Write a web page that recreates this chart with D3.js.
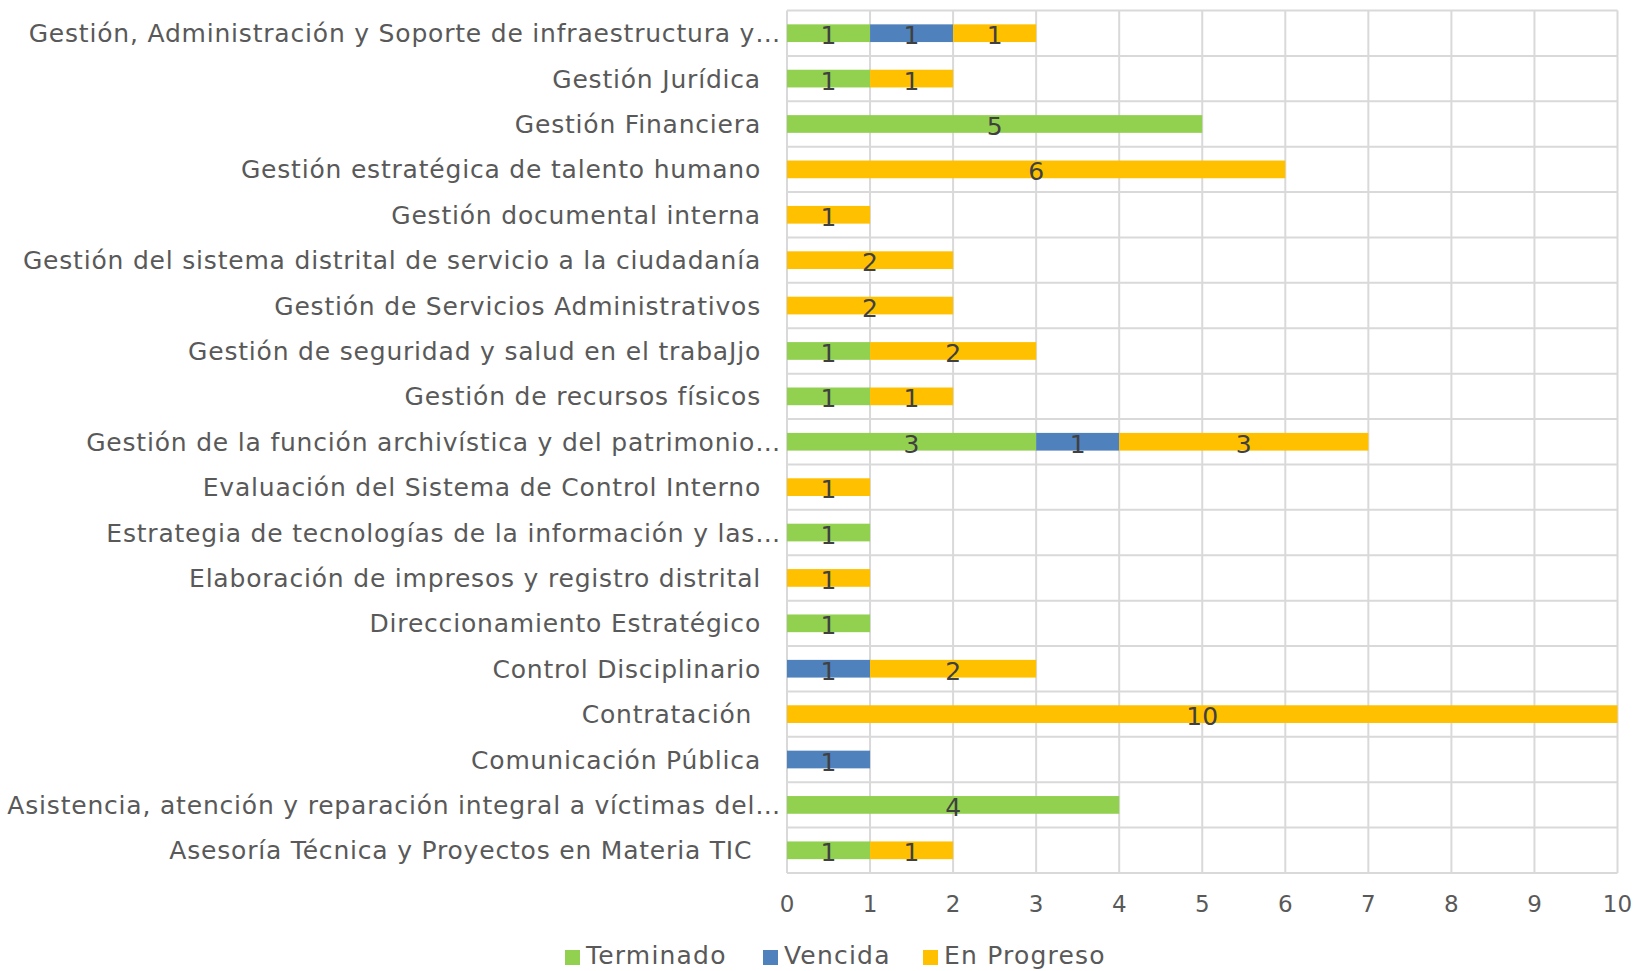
<!DOCTYPE html>
<html>
<head>
<meta charset="utf-8">
<script src="https://cdn.jsdelivr.net/npm/d3@7"></script>
<style>
  html, body { margin: 0; padding: 0; background: #fff; }
  svg { display: block; font-family: "DejaVu Sans", Verdana, sans-serif; }
  text { white-space: pre; }
</style>
</head>
<body>
<div id="chart"></div>
<script>
// ---------- Data (top to bottom as drawn) ----------
const categories = [
  "Gestión, Administración y Soporte de infraestructura y…",
  "Gestión Jurídica",
  "Gestión Financiera",
  "Gestión estratégica de talento humano",
  "Gestión documental interna",
  "Gestión del sistema distrital de servicio a la ciudadanía",
  "Gestión de Servicios Administrativos",
  "Gestión de seguridad y salud en el trabaJjo",
  "Gestión de recursos físicos",
  "Gestión de la función archivística y del patrimonio…",
  "Evaluación del Sistema de Control Interno",
  "Estrategia de tecnologías de la información y las…",
  "Elaboración de impresos y registro distrital",
  "Direccionamiento Estratégico",
  "Control Disciplinario",
  "Contratación ",
  "Comunicación Pública",
  "Asistencia, atención y reparación integral a víctimas del…",
  "Asesoría Técnica y Proyectos en Materia TIC "
];
const terminado  = [1, 1, 5, 0, 0, 0, 0, 1, 1, 3, 0, 1, 0, 1, 0, 0, 0, 4, 1];
const vencida    = [1, 0, 0, 0, 0, 0, 0, 0, 0, 1, 0, 0, 0, 0, 1, 0, 1, 0, 0];
const enProgreso = [1, 1, 0, 6, 1, 2, 2, 2, 1, 3, 1, 0, 1, 0, 2, 10, 0, 0, 1];
const seriesNames = ["Terminado", "Vencida", "En Progreso"];
const xTicks = [0, 1, 2, 3, 4, 5, 6, 7, 8, 9, 10];

// ---------- Layout ----------
const W = 1634, H = 971;
const plot = { left: 787, right: 1617.5, top: 10.5, bottom: 873 };
const colors = { "Terminado": "#92D050", "Vencida": "#4F81BD", "En Progreso": "#FFC000" };
const textColor = "#595959";
const labelColor = "#404040";
const gridColor = "#D9D9D9";

const rows = categories.map((c, i) => ({
  cat: c,
  "Terminado": terminado[i],
  "Vencida": vencida[i],
  "En Progreso": enProgreso[i]
}));

const svg = d3.select("#chart").append("svg")
  .attr("width", W).attr("height", H);

const x = d3.scaleLinear().domain([0, 10]).range([plot.left, plot.right]);
const y = d3.scaleBand().domain(categories)
  .range([plot.top, plot.bottom])
  .paddingInner(0.61).paddingOuter(0.305);

const step = y.step();
const offset = (step - y.bandwidth()) / 2;

// gridlines
const grid = svg.append("g").attr("class", "grid")
  .attr("stroke", gridColor).attr("stroke-width", 2);

grid.selectAll("line.v").data(xTicks).enter().append("line")
  .attr("class", "v")
  .attr("x1", d => x(d)).attr("x2", d => x(d))
  .attr("y1", plot.top).attr("y2", plot.bottom);

const boundaries = categories.map(c => y(c) - offset).concat([y(categories[categories.length - 1]) - offset + step]);
grid.selectAll("line.h").data(boundaries).enter().append("line")
  .attr("class", "h")
  .attr("x1", plot.left).attr("x2", plot.right)
  .attr("y1", d => d).attr("y2", d => d);

// stacked bars
const stacked = d3.stack().keys(seriesNames)(rows);

const layers = svg.append("g").attr("class", "layers")
  .selectAll("g.layer").data(stacked).enter().append("g")
  .attr("class", "layer")
  .attr("fill", d => colors[d.key]);

layers.selectAll("rect")
  .data(d => d.filter(s => s[1] - s[0] > 0))
  .enter().append("rect")
  .attr("x", d => x(d[0]))
  .attr("width", d => x(d[1]) - x(d[0]))
  .attr("y", d => y(d.data.cat))
  .attr("height", y.bandwidth());

// data labels
layers.selectAll("text")
  .data(d => d.filter(s => s[1] - s[0] > 0).map(s => ({ s, key: d.key })))
  .enter().append("text")
  .attr("x", d => (x(d.s[0]) + x(d.s[1])) / 2)
  .attr("y", d => y(d.s.data.cat) + y.bandwidth() / 2 + 11)
  .attr("text-anchor", "middle")
  .attr("fill", labelColor)
  .style("font-size", "25px")
  .text(d => d.s[1] - d.s[0]);

// category labels
svg.append("g").attr("class", "cat-labels")
  .selectAll("text").data(categories).enter().append("text")
  .attr("x", d => d.endsWith("…") ? plot.left - 6 : plot.left - 26)
  .attr("y", d => y(d) + y.bandwidth() / 2 + 9)
  .attr("text-anchor", "end")
  .attr("fill", textColor)
  .style("font-size", "25px")
  .style("letter-spacing", "0.8px")
  .text(d => d);

// x tick labels
svg.append("g").attr("class", "x-ticks")
  .selectAll("text").data(xTicks).enter().append("text")
  .attr("x", d => x(d))
  .attr("y", 912)
  .attr("text-anchor", "middle")
  .attr("fill", textColor)
  .style("font-size", "23px")
  .text(d => d);

// legend
const legendItems = [
  { name: "Terminado", x: 565 },
  { name: "Vencida", x: 763 },
  { name: "En Progreso", x: 923 }
];
const legend = svg.append("g").attr("class", "legend");
const li = legend.selectAll("g").data(legendItems).enter().append("g")
  .attr("transform", d => `translate(${d.x},0)`);
li.append("rect")
  .attr("x", 0).attr("y", 950)
  .attr("width", 15).attr("height", 15)
  .attr("fill", d => colors[d.name]);
li.append("text")
  .attr("x", 21).attr("y", 964)
  .attr("fill", textColor)
  .style("font-size", "25px")
  .style("letter-spacing", "1.2px")
  .text(d => d.name);
</script>
</body>
</html>
